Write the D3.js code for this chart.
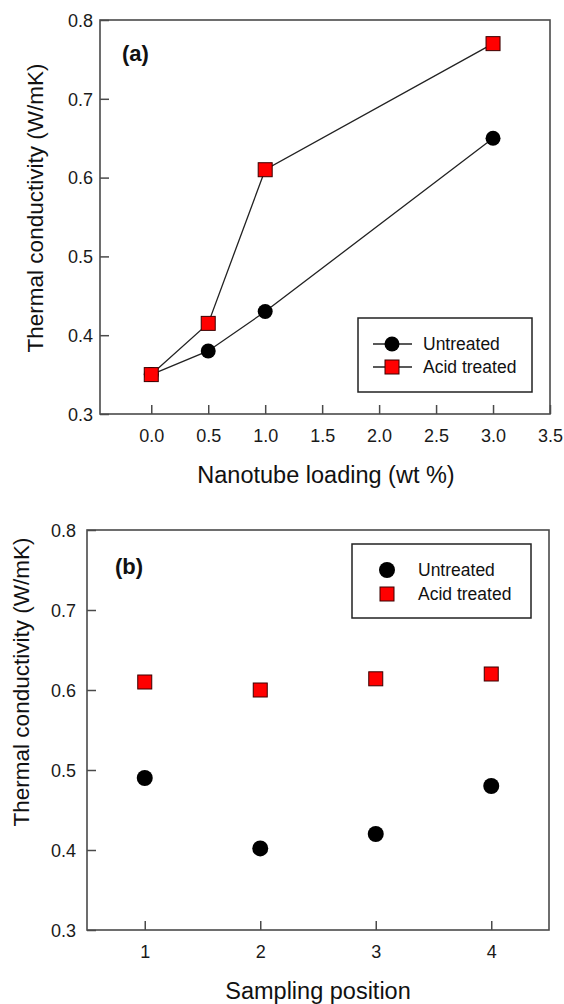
<!DOCTYPE html>
<html><head><meta charset="utf-8">
<script src="https://cdn.jsdelivr.net/npm/d3@7"></script>
<style>
body{margin:0;background:#fff;}
svg{display:block;font-family:"Liberation Sans",Arial,sans-serif;}
</style></head>
<body><svg id="c" width="564" height="1004"></svg>
<script>
// Panel (a)
const loadingA = [0.0, 0.5, 1.0, 3.0];
const untreatedA = [0.35, 0.38, 0.43, 0.65];
const acidA = [0.35, 0.415, 0.61, 0.77];
const xTicksA = [0.0, 0.5, 1.0, 1.5, 2.0, 2.5, 3.0, 3.5];
// Panel (b)
const positionsB = [1, 2, 3, 4];
const untreatedB = [0.49, 0.402, 0.42, 0.48];
const acidB = [0.61, 0.60, 0.614, 0.62];
const xTicksB = [1, 2, 3, 4];
const yTicks = [0.3, 0.4, 0.5, 0.6, 0.7, 0.8];
const seriesNames = ["Untreated", "Acid treated"];

const svg = d3.select("#c");
const frameCol = "#4a4a4a";
const FONT = "'Liberation Sans', Arial, sans-serif";

function styleTicks(sel){
  sel.selectAll("text").style("font-family", FONT).style("font-size", "18px").attr("fill", "#1a1a1a");
}

function panel(o){
  const x = d3.scaleLinear().domain(o.xdom).range([o.left, o.right]);
  const y = d3.scaleLinear().domain([0.3, 0.8]).range([o.bottom, o.top]);
  const g = svg.append("g");
  // axes
  const ya = g.append("g").attr("transform", `translate(${o.left},0)`)
    .call(d3.axisLeft(y).tickValues(yTicks).tickFormat(d3.format(".1f")).tickSize(-9).tickPadding(o.ypad));
  ya.attr("font-family", null).attr("font-size", null);
  ya.select(".domain").remove();
  ya.selectAll("line").attr("stroke", frameCol).attr("stroke-width", 1.5);
  ya.selectAll("text").attr("dy", "0.35em");
  styleTicks(ya);
  const xa = g.append("g").attr("transform", `translate(0,${o.bottom})`)
    .call(d3.axisBottom(x).tickValues(o.xticks).tickFormat(o.xfmt).tickSize(-9));
  xa.attr("font-family", null).attr("font-size", null);
  xa.select(".domain").remove();
  xa.selectAll("line").attr("stroke", frameCol).attr("stroke-width", 1.5);
  xa.selectAll("text").attr("y", 28).attr("dy", null);
  styleTicks(xa);
  // frame
  g.append("rect").attr("x", o.left).attr("y", o.top).attr("width", o.right - o.left).attr("height", o.bottom - o.top)
    .attr("fill", "none").attr("stroke", frameCol).attr("stroke-width", 1.6);
  // titles
  g.append("text").attr("transform", `translate(${o.ytx},${o.yty}) rotate(-90)`).attr("text-anchor", "middle")
    .style("font-family", FONT).style("font-size", "22.5px").attr("fill", "#111").attr("dy", "0.35em").text("Thermal conductivity (W/mK)");
  g.append("text").attr("x", o.xtx).attr("y", o.xty).attr("text-anchor", "middle")
    .style("font-family", FONT).style("font-size", "23.5px").attr("fill", "#111").text(o.xtitle);
  g.append("text").attr("x", o.lx).attr("y", o.ly).style("font-family", FONT).style("font-size", "22px").attr("font-weight", "bold").attr("fill", "#111").text(o.label);
  // lines
  if (o.lines){
    const line = d3.line().x((d,i)=>x(o.xs[i])).y(d=>y(d));
    g.append("path").attr("d", line(o.s1)).attr("fill","none").attr("stroke","#222").attr("stroke-width",1.3);
    g.append("path").attr("d", line(o.s2)).attr("fill","none").attr("stroke","#222").attr("stroke-width",1.3);
  }
  // markers
  g.selectAll(".c").data(o.s1).enter().append("circle")
    .attr("cx",(d,i)=>x(o.xs[i])).attr("cy",d=>y(d)).attr("r",o.r).attr("fill","#000");
  g.selectAll(".s").data(o.s2).enter().append("rect")
    .attr("x",(d,i)=>x(o.xs[i])-o.sq/2).attr("y",d=>y(d)-o.sq/2).attr("width",o.sq).attr("height",o.sq)
    .attr("fill","#ff0000").attr("stroke","#3a0000").attr("stroke-width",1);
  // legend
  const L = o.leg;
  g.append("rect").attr("x",L.x).attr("y",L.y).attr("width",L.w).attr("height",L.h)
    .attr("fill","#fff").attr("stroke","#222").attr("stroke-width",1.5);
  seriesNames.forEach((name,i)=>{
    const cy = L.rows[i];
    if (o.lines){
      g.append("line").attr("x1",L.l1).attr("x2",L.l2).attr("y1",cy).attr("y2",cy).attr("stroke","#222").attr("stroke-width",1.3);
    }
    if (i===0) g.append("circle").attr("cx",L.mx).attr("cy",cy).attr("r",o.r).attr("fill","#000");
    else g.append("rect").attr("x",L.mx-o.sq/2).attr("y",cy-o.sq/2).attr("width",o.sq).attr("height",o.sq)
      .attr("fill","#ff0000").attr("stroke","#3a0000").attr("stroke-width",1);
    g.append("text").attr("x",L.tx).attr("y",cy).attr("dy","0.35em").style("font-family", FONT).style("font-size","17.5px").attr("fill","#111").text(name);
  });
}

panel({xdom:[-0.45,3.5], left:100, right:550, top:20, bottom:414, ypad:7,
  xticks:xTicksA, xfmt:d3.format(".1f"), xs:loadingA, s1:untreatedA, s2:acidA, lines:true, r:7.5, sq:14,
  ytx:35, yty:208, xtx:326, xty:483, xtitle:"Nanotube loading (wt %)", lx:122, ly:61, label:"(a)",
  leg:{x:358, y:318, w:174, h:74, rows:[344,367], l1:373, l2:412, mx:392, tx:423}});

panel({xdom:[0.5,4.5], left:87, right:549, top:530, bottom:930, ypad:11,
  xticks:xTicksB, xfmt:d3.format("d"), xs:positionsB, s1:untreatedB, s2:acidB, lines:false, r:8, sq:14,
  ytx:21, yty:682, xtx:318, xty:999, xtitle:"Sampling position", lx:115, ly:574, label:"(b)",
  leg:{x:352, y:544, w:179, h:74, rows:[570,594], mx:387, tx:418}});
</script></body></html>
